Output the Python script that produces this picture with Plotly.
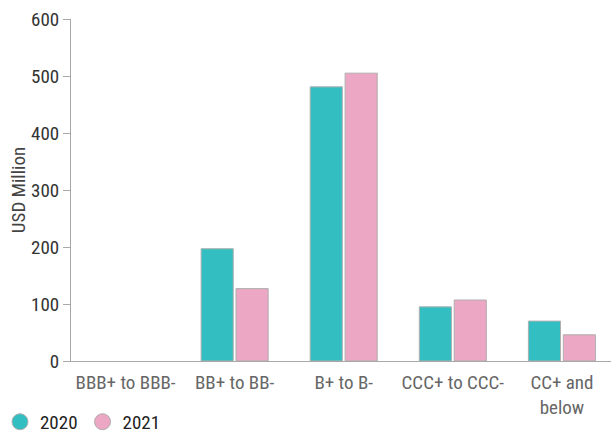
import plotly.graph_objects as go

categories = ["BBB+ to BBB-", "BB+ to BB-", "B+ to B-", "CCC+ to CCC-", "CC+ and<br>below"]
values_2020 = [0, 197, 481, 95, 70]
values_2021 = [0, 127, 505, 107, 46]
tick_values = [0, 100, 200, 300, 400, 500, 600]

teal = "#33BFC1"
pink = "#EBA7C3"
grey_line = "#A8A8A8"
label_grey = "#666666"
font_family = "Roboto Condensed, DejaVu Sans Condensed, Roboto"

fig = go.Figure()
for name, vals, col in [("2020", values_2020, teal), ("2021", values_2021, pink)]:
    fig.add_trace(go.Bar(
        x=categories, y=vals, name=name, showlegend=False,
        marker=dict(color=col, line=dict(color="#AFAFAF", width=[1 if v else 0 for v in vals])),
    ))
# circular legend swatches
for name, col in [("2020", teal), ("2021", pink)]:
    fig.add_trace(go.Scatter(
        x=[None], y=[None], mode="markers", name=name,
        marker=dict(symbol="circle", size=20, color=col, line=dict(color="#AFAFAF", width=1)),
    ))

fig.update_layout(
    width=611, height=434,
    margin=dict(l=71, r=0, t=19, b=73, autoexpand=False),
    paper_bgcolor="white", plot_bgcolor="white",
    barmode="group", bargap=0.36, bargroupgap=0.08,
    font=dict(family=font_family, size=18, color=label_grey),
    showlegend=True,
    legend=dict(orientation="h", x=-0.1315, xanchor="left",
                y=-0.178, yanchor="middle",
                font=dict(size=19, color="#222222"), itemwidth=30, tracegroupgap=0),
    xaxis=dict(range=[-0.5, 4.45], showline=True, linecolor=grey_line, linewidth=1, ticks="",
               showgrid=False, tickfont=dict(size=19, color=label_grey), ticklabelstandoff=4),
    yaxis=dict(range=[0, 600], tickvals=tick_values, showline=True, linecolor=grey_line,
               linewidth=1, ticks="outside", ticklen=7, tickcolor=grey_line, showgrid=False,
               zeroline=False, tickfont=dict(size=19, color="#333333"),
               title=dict(text="USD Million", font=dict(size=19, color="#444444"), standoff=0)),
)

fig.write_html("out.html")
